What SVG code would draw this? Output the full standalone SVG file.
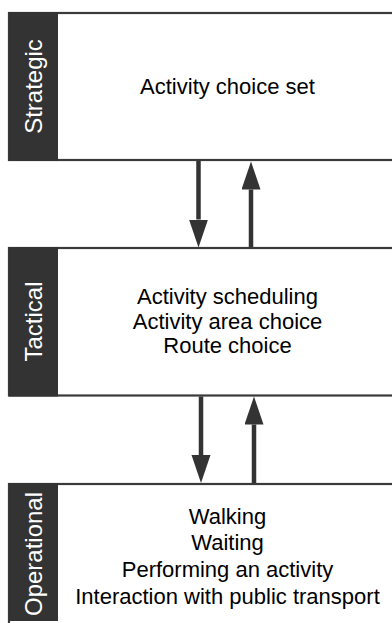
<svg xmlns="http://www.w3.org/2000/svg" width="392" height="623" viewBox="0 0 392 623">
  <style>
    .box { fill: #ffffff; stroke: #3a3a3a; stroke-width: 2.2; }
    .band { fill: #333333; }
    .band-label { fill: #ffffff; font-family: "Liberation Sans", Arial, sans-serif; font-size: 24px; text-anchor: middle; }
    .body { fill: #000000; font-family: "Liberation Sans", Arial, sans-serif; font-size: 22px; text-anchor: middle; }
    .link { stroke: #333333; stroke-width: 4.5; fill: none; marker-end: url(#head); }
  </style>
  <defs>
    <marker id="head" markerUnits="userSpaceOnUse" markerWidth="30" markerHeight="20" refX="0" refY="9.5" orient="auto">
      <path d="M0,0 L28,9.5 L0,19 Z" fill="#333333"/>
    </marker>
  </defs>
  <rect width="392" height="623" fill="#ffffff"/>

  <!-- Strategic level -->
  <g id="strategic">
    <rect class="box" x="9" y="13" width="420" height="147"/>
    <rect class="band" x="9" y="12" width="49" height="149"/>
    <text class="band-label" transform="translate(42,86.5) rotate(-90)">Strategic</text>
    <text class="body" x="227.5" y="93.5">Activity choice set</text>
  </g>

  <!-- Tactical level -->
  <g id="tactical">
    <rect class="box" x="9" y="248" width="420" height="147.5"/>
    <rect class="band" x="9" y="247" width="49" height="149.5"/>
    <text class="band-label" transform="translate(42,321.5) rotate(-90)">Tactical</text>
    <text class="body" x="227.5" y="304">Activity scheduling</text>
    <text class="body" x="227.5" y="328.5">Activity area choice</text>
    <text class="body" x="227.5" y="353">Route choice</text>
  </g>

  <!-- Operational level -->
  <g id="operational">
    <rect class="box" x="9" y="484" width="420" height="160"/>
    <rect class="band" x="9" y="483" width="49" height="138"/>
    <text class="band-label" transform="translate(42,554) rotate(-90)">Operational</text>
    <text class="body" x="227.5" y="524">Walking</text>
    <text class="body" x="227.5" y="550">Waiting</text>
    <text class="body" x="227.5" y="577">Performing an activity</text>
    <text class="body" x="227.5" y="604">Interaction with public transport</text>
  </g>

  <!-- Connectors between levels -->
  <g id="connectors">
    <line class="link" x1="198.5" y1="161" x2="198.5" y2="219.5"/>
    <line class="link" x1="251" y1="247" x2="251" y2="189.5"/>
    <line class="link" x1="201" y1="396.5" x2="201" y2="455"/>
    <line class="link" x1="254" y1="483" x2="254" y2="424.5"/>
  </g>
</svg>
